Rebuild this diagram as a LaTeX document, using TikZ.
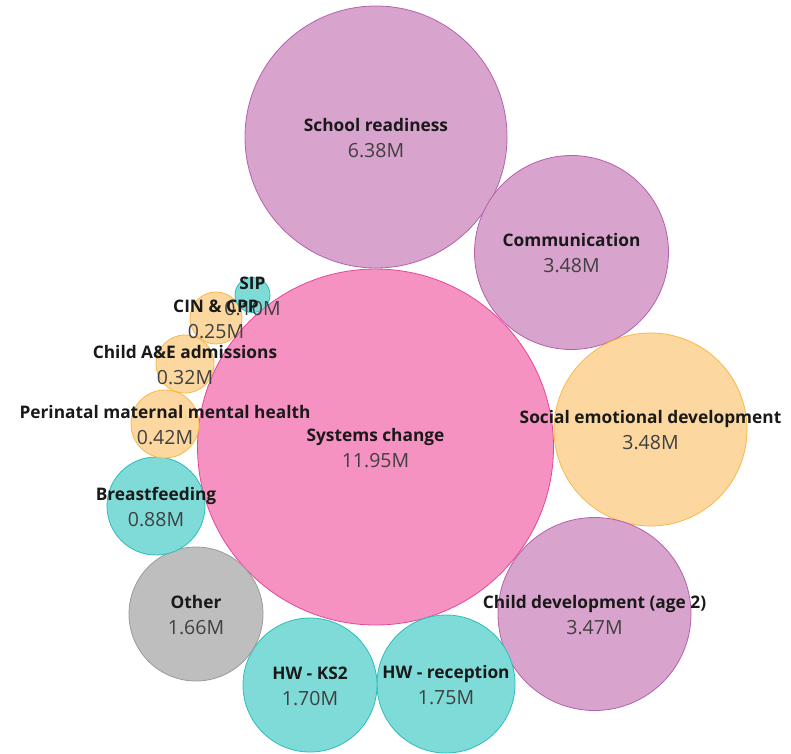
\documentclass[tikz,border=0pt]{standalone}
\usepackage{fontspec}
\setmainfont{Open Sans}
\usetikzlibrary{positioning}
\definecolor{pinkfill}{HTML}{F592C1}
\definecolor{pinkline}{HTML}{E5489A}
\definecolor{plumfill}{HTML}{D8A3CC}
\definecolor{plumline}{HTML}{B462AA}
\definecolor{peachfill}{HTML}{FCD8A0}
\definecolor{peachline}{HTML}{F8B848}
\definecolor{tealfill}{HTML}{7FDBD8}
\definecolor{tealline}{HTML}{2CBDB8}
\definecolor{greyfill}{HTML}{BEBEBE}
\definecolor{greyline}{HTML}{9A9A9A}
\definecolor{valtext}{HTML}{404040}
\tikzset{
bubble/.style={ % Sets the look of every bubble
circle,
inner sep=0pt,
line width=0.8pt},
pinkb/.style={bubble, fill=pinkfill, draw=pinkline},
plumb/.style={bubble, fill=plumfill, draw=plumline},
peachb/.style={bubble, fill=peachfill, draw=peachline},
tealb/.style={bubble, fill=tealfill, draw=tealline},
greyb/.style={bubble, fill=greyfill, draw=greyline},
lbl/.style={ % Bold name above the centre
anchor=base, inner sep=0pt,
font=\bfseries\fontsize{17.3}{17.3}\selectfont, text=black!90},
val/.style={ % Amount below the centre
anchor=base, inner sep=0pt,
font=\fontsize{19.5}{19.5}\selectfont, text=valtext}}

\begin{document}
\begin{tikzpicture}[x=1pt, y=-1pt]
\useasboundingbox (0,0) rectangle (791,753);
% bubbles
\node[pinkb, minimum size=356pt] (sys) at (375.5,447) {};
\node[plumb, minimum size=262pt] (school) at (376,137) {};
\node[plumb, minimum size=194pt] (comm) at (571.5,252.5) {};
\node[peachb, minimum size=193pt] (social) at (650.5,429.5) {};
\node[plumb, minimum size=193pt] (childdev) at (594.5,614) {};
\node[tealb, minimum size=138pt] (hwrec) at (446,684) {};
\node[tealb, minimum size=134pt] (hwks) at (310,685) {};
\node[greyb, minimum size=134pt] (other) at (196,614) {};
\node[tealb, minimum size=98pt] (breast) at (156,506) {};
\node[peachb, minimum size=68pt] (peri) at (165,424) {};
\node[peachb, minimum size=58pt] (ae) at (185,364) {};
\node[peachb, minimum size=52pt] (cin) at (216,318) {};
\node[tealb, minimum size=35pt] (sip) at (252.5,295) {};
% names and amounts
\node[lbl] (sysl) at ([yshift=6pt]sys.center) {Systems change};
\node[val] (sysv) at ([yshift=-20pt]sys.center) {11.95M};
\node[lbl] (schooll) at ([yshift=6pt]school.center) {School readiness};
\node[val] (schoolv) at ([yshift=-20pt]school.center) {6.38M};
\node[lbl] (comml) at ([yshift=6pt]comm.center) {Communication};
\node[val] (commv) at ([yshift=-20pt]comm.center) {3.48M};
\node[lbl] (sociall) at ([yshift=6pt]social.center) {Social emotional development};
\node[val] (socialv) at ([yshift=-20pt]social.center) {3.48M};
\node[lbl] (childdevl) at ([yshift=6pt]childdev.center) {Child development (age 2)};
\node[val] (childdevv) at ([yshift=-20pt]childdev.center) {3.47M};
\node[lbl] (hwrecl) at ([yshift=6pt]hwrec.center) {HW - reception};
\node[val] (hwrecv) at ([yshift=-20pt]hwrec.center) {1.75M};
\node[lbl] (hwksl) at ([yshift=6pt]hwks.center) {HW - KS2};
\node[val] (hwksv) at ([yshift=-20pt]hwks.center) {1.70M};
\node[lbl] (otherl) at ([yshift=6pt]other.center) {Other};
\node[val] (otherv) at ([yshift=-20pt]other.center) {1.66M};
\node[lbl] (breastl) at ([yshift=6pt]breast.center) {Breastfeeding};
\node[val] (breastv) at ([yshift=-20pt]breast.center) {0.88M};
\node[lbl] (peril) at ([yshift=6pt]peri.center) {Perinatal maternal mental health};
\node[val] (periv) at ([yshift=-20pt]peri.center) {0.42M};
\node[lbl] (ael) at ([yshift=6pt]ae.center) {Child A\&E admissions};
\node[val] (aev) at ([yshift=-20pt]ae.center) {0.32M};
\node[val] (sipv) at ([yshift=-20pt]sip.center) {0.10M};
\node[lbl] (sipl) at ([yshift=6pt]sip.center) {SIP};
\node[lbl] (cinl) at ([yshift=6pt]cin.center) {CIN \& CPP};
\node[val] (cinv) at ([yshift=-20pt]cin.center) {0.25M};
\end{tikzpicture}
\end{document}
